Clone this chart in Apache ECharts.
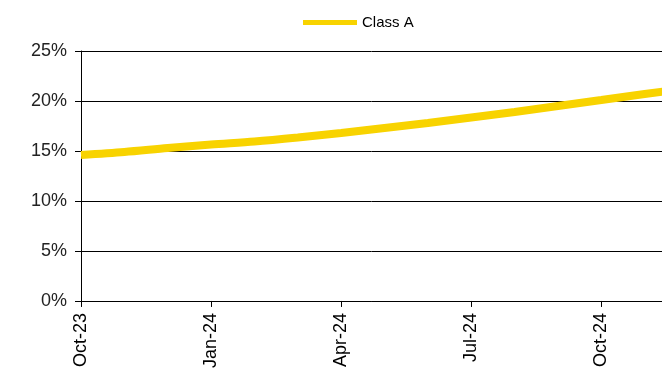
<!DOCTYPE html>
<html>
<head>
<meta charset="utf-8">
<script src="https://cdn.jsdelivr.net/npm/echarts@6/dist/echarts.min.js"></script>
<style>
html,body{margin:0;padding:0;background:#fff;}
#chart{width:662px;height:371px;}
</style>
</head>
<body>
<div id="chart"></div>
<script>
var months = ['Oct-23','Nov-23','Dec-23','Jan-24','Feb-24','Mar-24','Apr-24','May-24','Jun-24','Jul-24','Aug-24','Sep-24','Oct-24','Nov-24','Dec-24'];
var classA = [14.6, 14.9, 15.3, 15.65, 15.95, 16.35, 16.8, 17.3, 17.8, 18.35, 18.9, 19.5, 20.1, 20.7, 21.25];
var yTicks = [0, 5, 10, 15, 20, 25];

var FONT = '"Liberation Sans", Arial, sans-serif';
var chart = echarts.init(document.getElementById('chart'));
var pts = classA.map(function (v, i) { return [i, v]; });

chart.setOption({
  animation: false,
  grid: { left: 81, top: 51, right: 0, bottom: 70, containLabel: false },
  legend: {
    left: 298, top: 10,
    icon: 'rect', itemWidth: 54, itemHeight: 5, itemGap: 5,
    textStyle: { fontFamily: FONT, fontSize: 15, color: '#000' },
    data: ['Class A']
  },
  xAxis: {
    type: 'value', min: 0, max: 13.4, interval: 3,
    axisLine: { show: true, lineStyle: { color: '#000', width: 1 } },
    axisTick: { show: true, length: 6, lineStyle: { color: '#000' } },
    splitLine: { show: false },
    axisLabel: {
      rotate: 90, margin: 12, fontFamily: FONT, fontSize: 18, color: '#000',
      showMaxLabel: false,
      formatter: function (v) { return (Math.abs(v - Math.round(v)) < 1e-6 && months[v] !== undefined && v % 3 === 0) ? months[v] : ''; }
    }
  },
  yAxis: {
    type: 'value', min: yTicks[0], max: yTicks[yTicks.length - 1], interval: 5,
    axisLine: { show: true, lineStyle: { color: '#000', width: 1 } },
    axisTick: { show: true, length: 6, lineStyle: { color: '#000' } },
    splitLine: { show: true, lineStyle: { color: '#000', width: 1 } },
    axisLabel: { margin: 14, fontFamily: FONT, fontSize: 18, color: '#222', formatter: '{value}%' }
  },
  series: [{
    name: 'Class A', type: 'line', data: pts, smooth: 0.3,
    showSymbol: false, clip: true,
    lineStyle: { color: '#F8D300', width: 8 },
    itemStyle: { color: '#F8D300' }
  }]
});
</script>
</body>
</html>
